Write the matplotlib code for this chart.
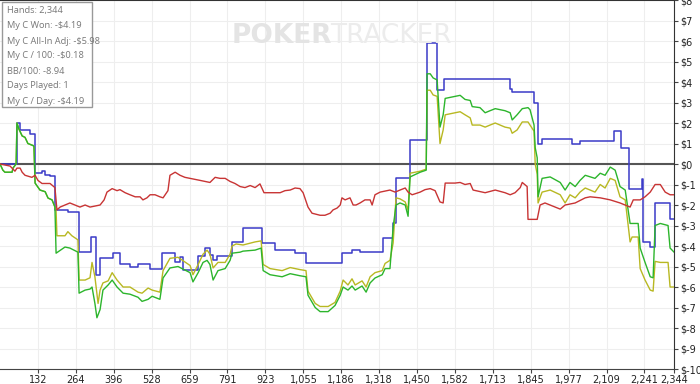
import numpy as np
import matplotlib.pyplot as plt
from matplotlib.patches import Rectangle

# eje x en manos, eje y en dolares
x_ticks = [132, 264, 396, 528, 659, 791, 923, 1055, 1186, 1318, 1450,
           1582, 1713, 1845, 1977, 2109, 2241, 2344]
y_ticks = list(range(-10, 9))

info_lines = ["Hands: 2,344", "My C Won: -$4.19", "My C All-In Adj: -$5.98",
              "My C / 100: -$0.18", "BB/100: -8.94", "Days Played: 1",
              "My C / Day: -$4.19"]

# linea azul (escalones)
blue_h = [0, 59, 70, 104, 122, 146, 157, 174, 191, 236, 275, 316, 334, 348,
          393, 417, 452, 480, 522, 563, 609, 626, 636, 689, 713, 730, 741,
          755, 807, 845, 911, 956, 1026, 1064, 1189, 1224, 1252, 1332, 1367,
          1377, 1426, 1485, 1520, 1544, 1774, 1781, 1857, 1871, 1885, 1989,
          2017, 2135, 2160, 2188, 2233, 2237, 2261, 2278, 2330, 2344]
blue_v = [0.0, 2.0, 1.66, 1.45, -0.45, -0.35, -0.55, -0.6, -2.24, -2.35,
          -4.3, -3.56, -5.4, -4.6, -4.35, -4.9, -5.0, -4.9, -5.1, -4.35, -4.8,
          -4.55, -5.17, -4.5, -4.1, -4.45, -4.7, -4.5, -3.8, -3.1, -3.85, -4.2,
          -4.35, -4.85, -4.35, -4.2, -4.3, -3.6, -2.9, -0.7, 1.17, 5.9, 3.6,
          4.15, 3.65, 3.5, 3.0, 0.97, 1.2, 0.97, 1.1, 1.6, 0.8, -1.2, -0.75,
          -3.8, -4.05, -1.9, -2.7, -2.7]

# linea verde
green_h = [0, 10, 17, 42, 45, 56, 59, 66, 77, 87, 97, 115, 118, 122, 139, 157,
           167, 181, 191, 195, 226, 243, 271, 275, 296, 313, 320, 330, 337,
           348, 358, 376, 390, 407, 428, 452, 480, 494, 515, 529, 556, 567,
           591, 619, 661, 671, 689, 706, 720, 730, 741, 758, 783, 800, 807,
           835, 845, 887, 908, 915, 939, 981, 1009, 1043, 1064, 1071, 1096,
           1113, 1141, 1165, 1183, 1193, 1210, 1224, 1235, 1259, 1273, 1287,
           1304, 1329, 1339, 1356, 1367, 1377, 1391, 1409, 1419, 1426, 1461,
           1482, 1485, 1496, 1506, 1520, 1530, 1541, 1548, 1582, 1600, 1617,
           1635, 1642, 1669, 1687, 1704, 1722, 1756, 1774, 1781, 1798, 1816,
           1836, 1843, 1857, 1861, 1868, 1871, 1885, 1913, 1948, 1965, 1982,
           2000, 2017, 2035, 2069, 2087, 2104, 2122, 2139, 2156, 2174, 2191,
           2219, 2226, 2243, 2261, 2271, 2278, 2296, 2323, 2330, 2344]
green_v = [0.0, -0.3, -0.4, -0.4, -0.2, 0.0, 2.0, 1.7, 1.37, 1.3, 1.0, 0.9,
           0.85, -0.93, -1.27, -1.35, -1.66, -1.75, -2.1, -4.35, -4.05, -4.1,
           -4.3, -6.3, -6.15, -6.1, -6.0, -6.8, -7.5, -7.1, -6.15, -5.9,
           -5.66, -6.0, -6.3, -6.35, -6.5, -6.7, -6.6, -6.45, -6.6, -5.56,
           -5.07, -5.0, -5.3, -5.75, -5.3, -4.8, -4.7, -4.9, -5.66, -5.2,
           -5.1, -4.7, -4.35, -4.3, -4.25, -4.2, -4.1, -5.2, -5.4, -5.5,
           -5.35, -5.45, -5.5, -6.4, -7.0, -7.2, -7.2, -6.9, -6.4, -6.0,
           -6.15, -5.95, -6.15, -5.95, -6.25, -5.8, -5.56, -5.4, -5.1, -5.1,
           -3.1, -2.0, -1.9, -2.0, -2.55, -0.63, -0.4, -0.3, 4.4, 4.4, 4.2,
           4.1, 1.8, 2.4, 3.2, 3.3, 3.35, 3.15, 3.1, 2.8, 2.75, 2.5, 2.6, 2.7,
           2.6, 2.5, 2.15, 2.4, 2.7, 2.75, 2.65, 1.9, 0.8, 0.3, -1.6, -0.7,
           -0.63, -0.9, -1.27, -0.9, -1.1, -0.8, -0.55, -0.7, -0.45, -0.55,
           -0.15, -0.3, -1.1, -1.27, -2.9, -2.9, -4.1, -4.8, -5.5, -5.55,
           -3.0, -2.9, -3.0, -4.1, -4.3]

# linea amarilla
yellow_h = [0, 10, 17, 42, 45, 56, 59, 66, 77, 87, 97, 115, 118, 122, 139,
            157, 167, 181, 191, 195, 198, 226, 236, 250, 271, 275, 296, 313,
            320, 330, 341, 348, 358, 376, 390, 407, 428, 452, 480, 494, 515,
            529, 556, 567, 591, 619, 661, 671, 689, 706, 720, 730, 741, 758,
            783, 800, 807, 821, 845, 887, 908, 915, 939, 981, 1009, 1043,
            1064, 1071, 1096, 1113, 1141, 1165, 1183, 1193, 1210, 1224, 1235,
            1259, 1273, 1287, 1304, 1329, 1339, 1356, 1367, 1377, 1391, 1409,
            1419, 1426, 1461, 1482, 1485, 1496, 1506, 1520, 1530, 1541, 1548,
            1582, 1600, 1617, 1635, 1642, 1669, 1687, 1704, 1722, 1756, 1774,
            1781, 1798, 1816, 1836, 1843, 1857, 1861, 1868, 1871, 1885, 1913,
            1948, 1965, 1982, 2000, 2017, 2035, 2069, 2087, 2104, 2122, 2139,
            2156, 2174, 2191, 2198, 2219, 2226, 2243, 2261, 2271, 2278, 2296,
            2323, 2330, 2344]
yellow_v = [0.0, -0.3, -0.4, -0.4, -0.2, 0.0, 2.0, 1.7, 1.37, 1.3, 1.0, 0.9,
            0.85, -0.93, -1.27, -1.35, -1.66, -1.75, -2.1, -2.3, -3.5, -3.5,
            -3.3, -3.5, -3.7, -5.66, -5.66, -5.55, -4.8, -5.5, -6.8, -6.15,
            -5.8, -5.7, -5.3, -5.66, -6.0, -6.0, -6.25, -6.3, -6.05, -6.15,
            -6.25, -5.2, -4.6, -4.55, -4.95, -5.4, -4.9, -4.4, -4.2, -4.4,
            -5.07, -4.8, -4.8, -4.4, -4.0, -3.9, -3.95, -3.8, -3.75, -4.9,
            -5.1, -5.2, -5.05, -5.15, -5.2, -6.2, -6.8, -6.95, -6.95, -6.75,
            -6.2, -5.66, -5.9, -5.6, -5.9, -5.7, -6.0, -5.5, -5.3, -5.2,
            -4.85, -4.7, -3.85, -1.65, -1.7, -1.85, -2.25, -0.45, -0.35,
            -0.25, 3.6, 3.6, 3.37, 3.3, 1.0, 1.66, 2.4, 2.5, 2.55, 2.4, 2.25,
            1.9, 1.9, 1.8, 1.9, 2.0, 1.8, 1.75, 1.5, 1.66, 2.05, 2.05, 1.9,
            1.6, 0.0, -0.5, -1.9, -1.37, -1.27, -1.5, -1.9, -1.5, -1.65,
            -1.37, -1.17, -1.37, -1.0, -1.17, -0.7, -0.8, -1.6, -1.75, -3.8,
            -3.56, -3.56, -5.1, -5.66, -6.15, -6.2, -4.75, -4.8, -4.8, -6.0,
            -6.0]

# linea roja
red_h = [0, 35, 52, 59, 70, 77, 87, 111, 122, 132, 146, 174, 191, 198, 209,
         226, 243, 278, 296, 313, 348, 362, 372, 390, 407, 417, 435, 452,
         470, 487, 497, 511, 522, 539, 556, 567, 584, 591, 609, 626, 643,
         661, 696, 730, 748, 765, 783, 800, 817, 835, 852, 870, 887, 904,
         918, 939, 974, 991, 1009, 1026, 1043, 1054, 1071, 1085, 1113, 1130,
         1148, 1158, 1172, 1183, 1189, 1200, 1217, 1228, 1238, 1252, 1269,
         1287, 1294, 1304, 1322, 1356, 1374, 1391, 1409, 1419, 1433, 1461,
         1478, 1496, 1513, 1530, 1541, 1548, 1582, 1600, 1617, 1635, 1645,
         1687, 1722, 1756, 1774, 1791, 1809, 1816, 1833, 1836, 1868, 1878,
         1895, 1930, 1948, 1965, 2000, 2035, 2052, 2087, 2122, 2156, 2191,
         2202, 2226, 2243, 2261, 2278, 2296, 2313, 2330, 2344]
red_v = [0.0, -0.1, -0.35, -0.2, -0.2, -0.4, -0.55, -0.65, -0.55, -0.8,
         -0.95, -0.95, -1.15, -2.24, -2.1, -2.0, -1.9, -2.1, -2.0, -2.1, -2.0,
         -1.75, -1.37, -1.2, -1.3, -1.25, -1.4, -1.5, -1.6, -1.6, -1.75,
         -1.65, -1.5, -1.5, -1.6, -1.65, -1.3, -0.55, -0.4, -0.55, -0.65,
         -0.7, -0.8, -0.9, -0.65, -0.7, -0.7, -0.85, -0.95, -1.1, -1.15,
         -1.05, -1.15, -0.97, -1.4, -1.4, -1.4, -1.3, -1.27, -1.17, -1.2,
         -1.4, -2.1, -2.4, -2.5, -2.5, -2.4, -2.24, -2.15, -2.0, -1.65,
         -1.75, -1.65, -2.0, -2.0, -1.9, -1.75, -1.75, -2.0, -1.5, -1.37,
         -1.27, -1.37, -1.27, -1.17, -1.37, -1.5, -1.37, -1.25, -1.2, -1.3,
         -1.85, -1.9, -0.93, -0.93, -0.9, -1.0, -0.95, -1.27, -1.4, -1.27,
         -1.4, -1.5, -1.4, -1.15, -0.9, -1.1, -2.7, -2.7, -2.0, -1.9, -2.1,
         -2.2, -2.0, -1.9, -1.65, -1.6, -1.65, -1.75, -1.9, -2.1, -1.75,
         -1.75, -1.6, -1.37, -1.0, -1.0, -1.37, -1.5, -1.5]

fig = plt.figure(figsize=(7, 3.84), dpi=100)
ax = fig.add_axes([0.0, 0.039, 0.963, 0.961])

# rejilla
for t in x_ticks:
    ax.axvline(t, color='#eeeeee', lw=0.8, zorder=0)
for t in y_ticks:
    ax.axhline(t, color='#eeeeee', lw=0.8, zorder=0)
ax.axhline(0, color='#555555', lw=1.5, zorder=1)

ax.plot(blue_h, blue_v, color='#3b3bc8', lw=1.1, drawstyle='steps-post', zorder=2)
ax.plot(yellow_h, yellow_v, color='#b8b822', lw=1.0, zorder=3)
ax.plot(green_h, green_v, color='#2cb52c', lw=1.0, zorder=4)
ax.plot(red_h, red_v, color='#c83434', lw=1.0, zorder=5)

ax.set_xlim(0, 2344)
ax.set_ylim(-10, 8)
ax.set_xticks(x_ticks)
ax.set_xticklabels(['{:,}'.format(t) for t in x_ticks], fontsize=7, color='#222222')
ax.set_yticks(y_ticks)
ax.set_yticklabels(['$' + str(t) for t in y_ticks], fontsize=7, color='#222222')
ax.yaxis.tick_right()
ax.tick_params(axis='both', length=3, width=0.8, color='#444444', pad=1.5)
ax.spines['left'].set_visible(False)
ax.spines['top'].set_color('#333333')
ax.spines['top'].set_linewidth(1.5)
ax.spines['right'].set_color('#333333')
ax.spines['bottom'].set_color('#444444')

# marca de agua
fig.text(0.331, 0.905, 'POKER', fontsize=19, fontweight='bold', color='#e4e4e4',
         ha='left', va='center', zorder=0)
fig.text(0.472, 0.905, 'TRACKER', fontsize=19, color='#ececec',
         ha='left', va='center', zorder=0)

# cuadro de informacion
fig.patches.append(Rectangle((2 / 700, 1 - 107 / 384), 90 / 700, 105 / 384,
                             transform=fig.transFigure, facecolor='white',
                             edgecolor='#999999', lw=1, zorder=10))
for i, s in enumerate(info_lines):
    fig.text(7 / 700, 1 - (11 + 15 * i) / 384, s, fontsize=6.7, color='#777777',
             family='Open Sans', ha='left', va='center', zorder=11)

fig.savefig('out.png', dpi=100)
